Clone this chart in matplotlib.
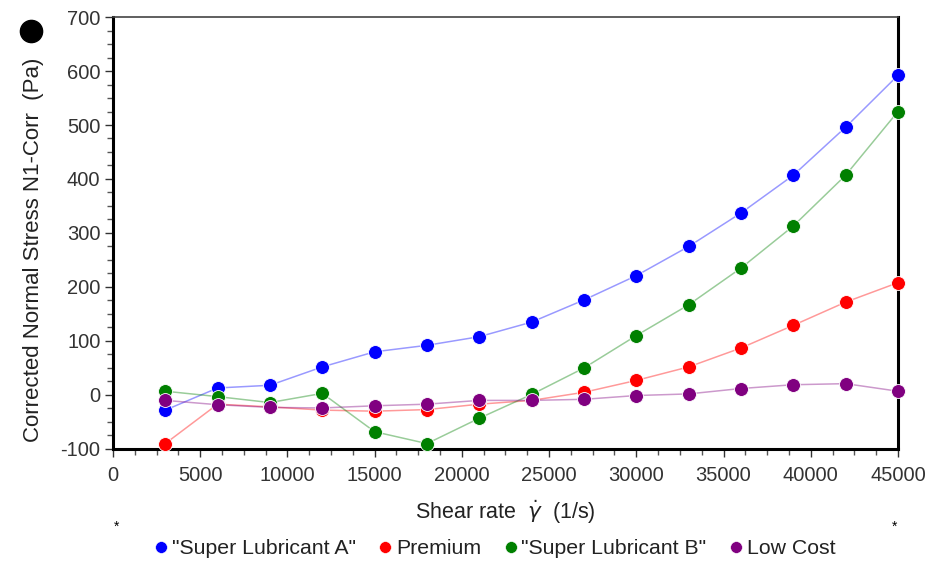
import matplotlib
matplotlib.use("Agg")
import matplotlib.pyplot as plt
from matplotlib.lines import Line2D
from matplotlib.ticker import MultipleLocator

plt.rcParams['font.family'] = ['Liberation Sans', 'DejaVu Sans']
plt.rcParams['axes.unicode_minus'] = False

# shear rate (1/s)
shear = [3000, 6000, 9000, 12000, 15000, 18000, 21000, 24000,
         27000, 30000, 33000, 36000, 39000, 42000, 45000]

# corrected normal stress N1 (Pa)
lub_a = [-28, 13, 18, 52, 80, 92, 108, 135, 176, 221, 275, 337, 407, 496, 592]
premium = [-90, -17, -22, -28, -30, -27, -17, -10, 5, 27, 52, 87, 129, 172, 208]
lub_b = [7, -3, -14, 3, -68, -90, -43, 1, 50, 110, 167, 235, 313, 407, 525]
low_cost = [-10, -18, -23, -24, -20, -17, -10, -10, -8, -1, 2, 12, 19, 21, 7]

names = ['"Super Lubricant A"', 'Premium', '"Super Lubricant B"', 'Low Cost']
colors = ['#0000ff', '#ff0000', '#008000', '#800080']
series = [lub_a, premium, lub_b, low_cost]

fig = plt.figure(figsize=(9.29, 5.63), dpi=100)
ax = fig.add_axes([0.1216, 0.2025, 0.845, 0.7673])

handles = []
for vals, col, nm in zip(series, colors, names):
    ax.plot(shear, vals, '-', color=col, alpha=0.4, lw=1.1, zorder=2)
    ax.plot(shear, vals, 'o', color=col, ms=10, mec='white', mew=0.6, zorder=3,
            clip_on=False)
    handles.append(Line2D([], [], marker='o', ls='none', color=col, ms=8.5, mec='white', mew=0.4))

ax.set_xlim(0, 45000)
ax.set_ylim(-100, 700)
ax.xaxis.set_major_locator(MultipleLocator(5000))
ax.xaxis.set_minor_locator(MultipleLocator(1250))
ax.yaxis.set_major_locator(MultipleLocator(100))
ax.yaxis.set_minor_locator(MultipleLocator(25))

for s in ['left', 'bottom', 'right']:
    ax.spines[s].set_linewidth(2.2)
    ax.spines[s].set_color('black')
ax.spines['top'].set_linewidth(1.2)
ax.spines['top'].set_color('#444444')

ax.tick_params(which='major', direction='out', length=6, width=1, labelsize=14.5,
               colors='#333333', labelcolor='#333333')
ax.tick_params(which='minor', direction='out', length=4, width=1, colors='#555555')
ax.tick_params(axis='x', pad=6)
ax.tick_params(axis='y', pad=3)

ax.set_xlabel(r'Shear rate  $\dot{\gamma}$  (1/s)', fontsize=15.5, color='#222222', labelpad=10)
ax.set_ylabel('Corrected Normal Stress N1-Corr  (Pa)', fontsize=16, color='#222222')
ax.yaxis.set_label_coords(-0.088, 0.46)

# marker symbol above the y label
fig.add_artist(Line2D([31 / 929], [1 - 31 / 563], marker='o', color='black', ms=16,
                      transform=fig.transFigure))

fig.text(117 / 929, 1 - 527 / 563, '*', fontsize=10, ha='center', va='center')
fig.text(895 / 929, 1 - 527 / 563, '*', fontsize=10, ha='center', va='center')

fig.legend(handles, names, loc='center', bbox_to_anchor=(493 / 929, 1 - 549 / 563),
           ncol=4, frameon=False, fontsize=15.3, handletextpad=0.0, columnspacing=0.9,
           handlelength=1.0, labelcolor='#222222')

fig.savefig('out.png', dpi=100)
